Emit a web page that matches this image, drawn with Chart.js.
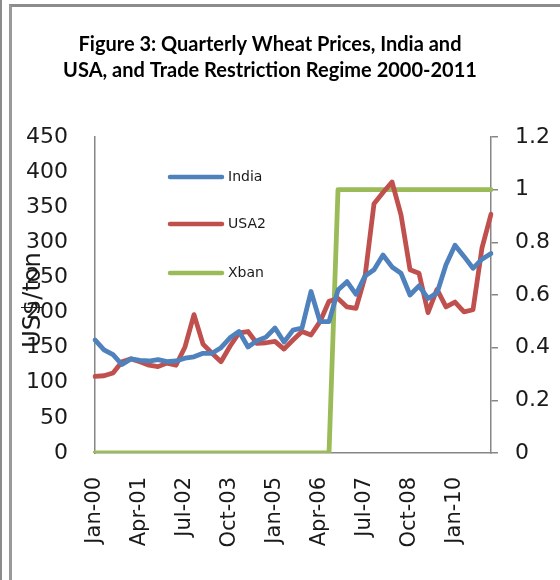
<!DOCTYPE html>
<html>
<head>
<meta charset="utf-8">
<script src="https://cdn.jsdelivr.net/npm/chart.js@4.4.1/dist/chart.umd.min.js"></script>
<style>
  html, body { margin: 0; padding: 0; background: #fff; }
  #wrap { position: relative; width: 560px; height: 580px; overflow: hidden; }
  #barL { position: absolute; left: 0; top: 0; width: 2px; height: 580px; background: #8c8c8c; }
  #frame { position: absolute; left: 9px; top: 4px; width: 560px; height: 600px;
           border-left: 3px solid #9a9a9a; border-top: 3px solid #8c8c8c; box-sizing: border-box; }
  canvas { position: absolute; left: 0; top: 0; }
</style>
</head>
<body>
<div id="wrap">
  <div id="barL"></div>
  <div id="frame"></div>
  <canvas id="c" width="560" height="580"></canvas>
</div>
<script>
const titleLines = ["Figure 3: Quarterly Wheat Prices, India and", "USA, and Trade Restriction Regime 2000-2011"];
const yTitle = "US$/ton";

const categories = [
  "Jan-00","Apr-00","Jul-00","Oct-00",
  "Jan-01","Apr-01","Jul-01","Oct-01",
  "Jan-02","Apr-02","Jul-02","Oct-02",
  "Jan-03","Apr-03","Jul-03","Oct-03",
  "Jan-04","Apr-04","Jul-04","Oct-04",
  "Jan-05","Apr-05","Jul-05","Oct-05",
  "Jan-06","Apr-06","Jul-06","Oct-06",
  "Jan-07","Apr-07","Jul-07","Oct-07",
  "Jan-08","Apr-08","Jul-08","Oct-08",
  "Jan-09","Apr-09","Jul-09","Oct-09",
  "Jan-10","Apr-10","Jul-10","Oct-10",
  "Jan-11"
];

const india = [
  161, 147, 140, 126, 134, 132, 131, 133, 130, 131,
  135, 137, 142, 142, 150, 164, 173, 151, 160, 165,
  178, 158, 175, 178, 230, 187, 187, 232, 244, 226,
  252, 261, 282, 265, 256, 225, 238, 220, 228, 268,
  296, 280, 263, 276, 284
];

const usa2 = [
  109, 110, 114, 130, 134, 130, 125, 123, 128, 125,
  151, 197, 155, 142, 130, 152, 171, 173, 156, 157,
  159, 148, 161, 173, 168, 187, 216, 220, 208, 206,
  251, 355, 371, 386, 339, 261, 256, 200, 233, 208,
  215, 201, 204, 292, 340
];

const xban = [
  0, 0, 0, 0, 0, 0, 0, 0, 0, 0,
  0, 0, 0, 0, 0, 0, 0, 0, 0, 0,
  0, 0, 0, 0, 0, 0, 0, 1, 1, 1,
  1, 1, 1, 1, 1, 1, 1, 1, 1, 1,
  1, 1, 1, 1, 1
];

const leftTicks = [0, 50, 100, 150, 200, 250, 300, 350, 400, 450];
const rightTicks = [0, 0.2, 0.4, 0.6, 0.8, 1, 1.2];
const rightTickLabels = ["0", "0.2", "0.4", "0.6", "0.8", "1", "1.2"];
const labelEvery = 5;

const AXIS = '#868686';
const TXT = '#1a1a1a';

const decorPlugin = {
  id: 'decor',
  afterDraw(chart) {
    const ctx = chart.ctx;
    ctx.save();
    // title
    ctx.fillStyle = '#000';
    ctx.font = 'bold 20px Lato, "Open Sans", sans-serif';
    ctx.textAlign = 'center';
    ctx.textBaseline = 'middle';
    ctx.fillText(titleLines[0], 270, 45);
    ctx.fillText(titleLines[1], 270, 71);
    // y axis title
    ctx.save();
    ctx.translate(34, 300);
    ctx.rotate(-Math.PI / 2);
    ctx.font = '24px "DejaVu Sans", sans-serif';
    ctx.fillStyle = TXT;
    ctx.fillText(yTitle, 0, 0);
    ctx.restore();
    // legend
    const ys = [177, 224, 273];
    chart.data.datasets.forEach((ds, i) => {
      ctx.strokeStyle = ds.borderColor;
      ctx.lineWidth = 4.5;
      ctx.lineCap = 'round';
      ctx.beginPath();
      ctx.moveTo(170, ys[i]);
      ctx.lineTo(222, ys[i]);
      ctx.stroke();
      ctx.fillStyle = TXT;
      ctx.font = '14px "DejaVu Sans", sans-serif';
      ctx.textAlign = 'left';
      ctx.textBaseline = 'middle';
      ctx.fillText(ds.label, 228, ys[i]);
    });
    ctx.restore();
  }
};

new Chart(document.getElementById('c'), {
  type: 'line',
  data: {
    labels: categories,
    datasets: [
      { label: 'India', data: india, borderColor: '#4F81BD', yAxisID: 'y' },
      { label: 'USA2', data: usa2, borderColor: '#C0504D', yAxisID: 'y' },
      { label: 'Xban', data: xban, borderColor: '#9BBB59', yAxisID: 'y1' }
    ].map(d => Object.assign(d, {
      borderWidth: 4.8, pointRadius: 0, tension: 0, fill: false,
      borderJoinStyle: 'round', borderCapStyle: 'round'
    }))
  },
  options: {
    responsive: false,
    animation: false,
    events: [],
    layout: { padding: { top: 137, left: 0, right: 0, bottom: 0 } },
    plugins: { legend: { display: false }, title: { display: false }, tooltip: { enabled: false } },
    scales: {
      x: {
        type: 'category',
        offset: false,
        grid: { drawOnChartArea: false, drawTicks: false },
        border: { display: true, color: AXIS, width: 1.5 },
        ticks: {
          autoSkip: false, maxRotation: 90, minRotation: 90, padding: 24,
          color: TXT, font: { family: '"DejaVu Sans", sans-serif', size: 21 },
          callback: (v, i) => (i % labelEvery === 0 ? categories[i] : '')
        },
        afterFit: s => { s.height = 127; }
      },
      y: {
        position: 'left',
        min: 0, max: 450,
        afterBuildTicks: s => { s.ticks = leftTicks.map(v => ({ value: v })); },
        grid: { drawOnChartArea: false, drawTicks: false },
        border: { display: true, color: AXIS, width: 1.5 },
        ticks: {
          padding: 27, color: TXT,
          font: { family: '"DejaVu Sans", sans-serif', size: 22 },
          callback: v => String(v)
        },
        afterFit: s => { s.width = 95; }
      },
      y1: {
        position: 'right',
        min: 0, max: 1.2,
        afterBuildTicks: s => { s.ticks = rightTicks.map(v => ({ value: v })); },
        grid: { drawOnChartArea: false, drawTicks: true, tickLength: 7, color: AXIS, lineWidth: 1.5 },
        border: { display: true, color: AXIS, width: 1.5 },
        ticks: {
          padding: 17, color: TXT,
          font: { family: '"DejaVu Sans", sans-serif', size: 22 },
          callback: (v, i) => rightTickLabels[i]
        },
        afterFit: s => { s.width = 69; }
      }
    }
  },
  plugins: [decorPlugin]
});
</script>
</body>
</html>
